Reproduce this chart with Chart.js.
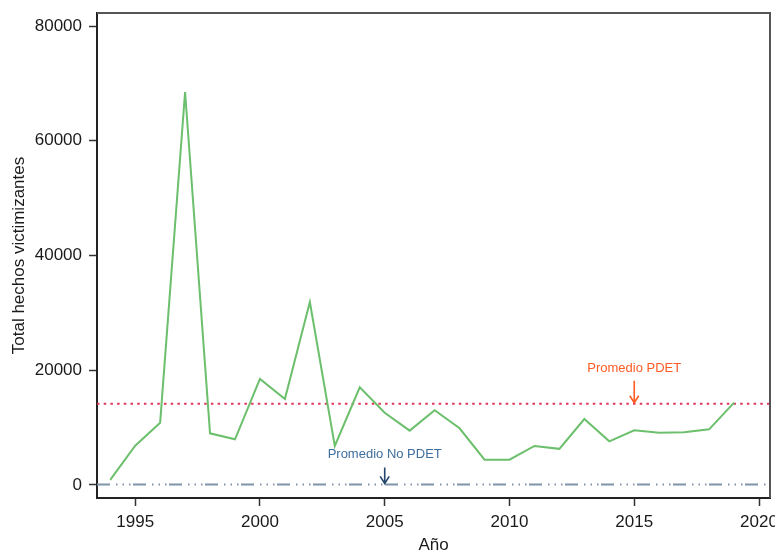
<!DOCTYPE html>
<html>
<head>
<meta charset="utf-8">
<script src="https://cdn.jsdelivr.net/npm/chart.js"></script>
<style>
body{margin:0;background:#fff;}
#wrap{width:775px;height:550px;}
</style>
</head>
<body>
<div id="wrap"><canvas id="c" width="775" height="550"></canvas></div>
<script>
// data
const years=[1994,1995,1996,1997,1998,1999,2000,2001,2002,2003,2004,2005,2006,2007,2008,2009,2010,2011,2012,2013,2014,2015,2016,2017,2018,2019];
const hechos=[900,6850,10860,68500,9000,7960,18480,14990,31900,6800,17030,12600,9470,13020,9880,4410,4410,6800,6300,11500,7610,9530,9120,9180,9700,14350];
const promedioPdet=14150;
const promedioNoPdet=100;
const xTicks=[1995,2000,2005,2010,2015,2020];
const yTicks=[0,20000,40000,60000,80000];
const xMin=1993.47, xMax=2020.44;
const yMin=-2270, yMax=82270;
const labelPdet={text:"Promedio PDET",year:2015};
const labelNoPdet={text:"Promedio No PDET",year:2005};

const FONT="'Liberation Sans',Arial,sans-serif";
const INK="#1a1a1a";

const frame={
id:"frame",
afterDraw(chart){
const a=chart.chartArea, ctx=chart.ctx;
ctx.save();
ctx.strokeStyle="#555";
ctx.lineWidth=2;
ctx.beginPath();
ctx.moveTo(a.left,a.top);
ctx.lineTo(a.right,a.top);
ctx.lineTo(a.right,a.bottom);
ctx.stroke();
// annotations
const xs=chart.scales.x, ys=chart.scales.y;
function note(lab,val,txtColor,arrowColor,len){
const px=xs.getPixelForValue(lab.year);
const py=ys.getPixelForValue(val);
ctx.strokeStyle=arrowColor;
ctx.lineWidth=1.6;
ctx.beginPath();
ctx.moveTo(px,py-len);
ctx.lineTo(px,py-1);
ctx.moveTo(px-4.5,py-8);
ctx.lineTo(px,py-1);
ctx.lineTo(px+4.5,py-8);
ctx.stroke();
ctx.fillStyle=txtColor;
ctx.font="13px "+FONT;
ctx.textAlign="center";
ctx.textBaseline="alphabetic";
ctx.fillText(lab.text,px,py-len-9);
}
note(labelPdet,promedioPdet,"#ff5b24","#ff5b24",23);
note(labelNoPdet,promedioNoPdet,"#3f6e9c","#23456e",17);
ctx.restore();
}
};

function noPad(s){s.paddingTop=0;s.paddingBottom=0;s.paddingLeft=0;s.paddingRight=0;}

new Chart(document.getElementById("c"),{
type:"line",
data:{
datasets:[
{data:years.map((y,i)=>({x:y,y:hechos[i]})),borderColor:"#6cbf6c",borderWidth:2,pointRadius:0,tension:0,order:1},
{data:[{x:xMin,y:promedioPdet},{x:xMax,y:promedioPdet}],borderColor:"#e0365a",borderWidth:2,borderDash:[2.5,4.2],pointRadius:0,order:2},
{data:[{x:xMin,y:promedioNoPdet},{x:xMax,y:promedioNoPdet}],borderColor:"#8094aa",borderWidth:2,borderDash:[13,6,1.5,5,1.5,5,1.5,2.5],pointRadius:0,order:3}
]
},
options:{
responsive:false,
animation:false,
layout:{autoPadding:false,padding:{left:0,top:13,right:5,bottom:0}},
plugins:{legend:{display:false},tooltip:{enabled:false}},
scales:{
x:{
type:"linear",min:xMin,max:xMax,
afterBuildTicks(s){s.ticks=xTicks.map(v=>({value:v}));},
afterFit(s){s.height=52;noPad(s);},
grid:{drawOnChartArea:false,tickLength:8,tickWidth:1.5,tickColor:"#333"},
border:{color:"#222",width:2},
ticks:{color:INK,font:{family:FONT,size:17},padding:6,maxRotation:0,callback:v=>String(v)},
title:{display:true,text:"Año",color:INK,font:{family:FONT,size:17},padding:{top:0,bottom:-6}}
},
y:{
min:yMin,max:yMax,
afterBuildTicks(s){s.ticks=yTicks.map(v=>({value:v}));},
afterFit(s){s.width=97;noPad(s);},
grid:{drawOnChartArea:false,tickLength:8,tickWidth:1.5,tickColor:"#333"},
border:{color:"#222",width:2},
ticks:{color:INK,font:{family:FONT,size:17},padding:7,callback:v=>String(v)},
title:{display:true,text:"Total hechos victimizantes",color:INK,font:{family:FONT,size:17},padding:{top:9,bottom:0}}
}
}
},
plugins:[frame]
});
</script>
</body>
</html>
